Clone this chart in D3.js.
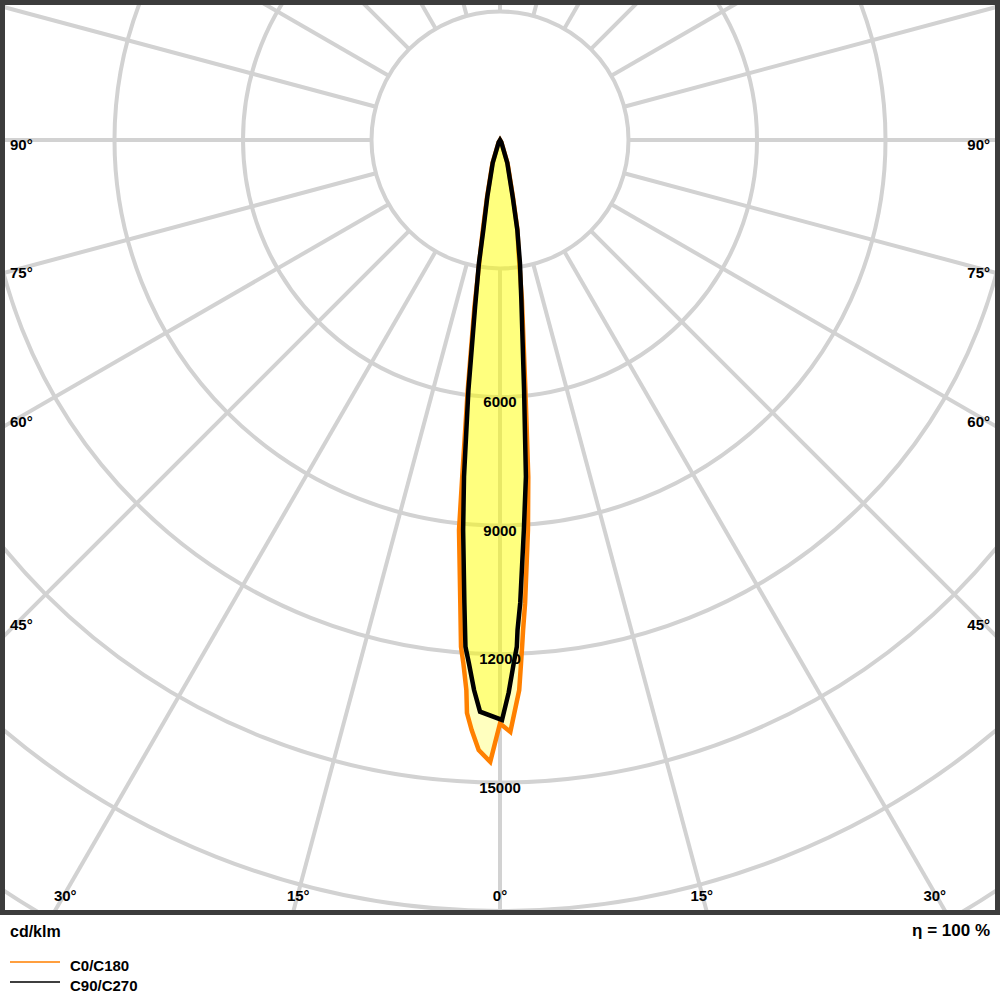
<!DOCTYPE html>
<html><head><meta charset="utf-8">
<script src="https://cdn.jsdelivr.net/npm/d3@7"></script>
<style>
body{margin:0;background:#fff}
svg{display:block}
text{font-family:"Liberation Sans",Arial,Helvetica,sans-serif;font-weight:bold;fill:#000}
</style>
</head><body>
<svg id="chart" width="1000" height="1000"></svg>
<script>
// ---- data (gamma in degrees, negative = left half-plane; values in cd/klm) ----
const c0Angles  = [-90,-30,-18,-12.8,-10.8,-8.7,-7.35,-6.4,-6,-4.9,-4.4,-4,-3.5,-3.3,-2.75,-2,-0.9,0,1,2,2.3,2.5,2.7,3.1,4.1,4.8,5.8,7.8,9.5,11,12.8,18,30,90];
const c0Values  = [0,60,570,1360,2140,3940,5890,7910,9155,10850,11865,12250,12865,13400,13790,14250,14520,13620,13820,12850,12230,11840,11450,10830,9130,7890,5870,3770,2600,2140,1360,570,60,0];
const c90Angles = [-90,-30,-17.6,-12.6,-10.5,-9.7,-8.5,-7.2,-6.1,-5.4,-4.4,-3.9,-3.4,-2.7,-2,0.2,0.9,1.5,1.9,2.05,2.5,3.5,4.4,5.5,7.6,9.2,10.9,12.6,17.6,30,90];
const c90Values = [0,60,563,1357,2137,2920,3935,5883,7905,9145,10842,11857,12238,12855,13355,13540,12900,12222,11836,11447,10819,9122,7884,5863,3768,2916,2139,1357,563,60,0];
const seriesNames = ["C0/C180","C90/C270"];
const ringValues = [3000,6000,9000,12000,15000,18000,21000];
const ringLabels = [6000,9000,12000,15000];
const spokeAngles = d3.range(0,360,15);
const sideAngleLabels = [90,75,60,45];
const bottomAngleLabels = [30,15,0];
const unitLabel = "cd/klm";
const effLabel = "η = 100 %";

// ---- layout ----
const cx = 500, cy = 140;
const frame = {x:2.5, y:2.5, w:995, h:910};
const svg = d3.select("#chart");
const r = d3.scaleLinear().domain([0,3000]).range([0,128.5]);

svg.append("defs").append("clipPath").attr("id","plotclip")
  .append("rect").attr("x",5).attr("y",5).attr("width",990).attr("height",905);

const plot = svg.append("g").attr("clip-path","url(#plotclip)");
const grid = plot.append("g").attr("transform",`translate(${cx},${cy})`);
const gridColor = "#d2d2d2";

grid.selectAll("circle.ring").data(ringValues).enter().append("circle")
  .attr("class","ring").attr("r",d=>r(d)).attr("fill","none")
  .attr("stroke",gridColor).attr("stroke-width",4);

grid.selectAll("line.spoke").data(spokeAngles).enter().append("line")
  .attr("class","spoke")
  .attr("x1",d=>r(3000)*Math.sin(d*Math.PI/180))
  .attr("y1",d=>r(3000)*Math.cos(d*Math.PI/180))
  .attr("x2",d=>1500*Math.sin(d*Math.PI/180))
  .attr("y2",d=>1500*Math.cos(d*Math.PI/180))
  .attr("stroke",gridColor).attr("stroke-width",4);

// ---- curves ----
const radial = d3.lineRadial()
  .angle(d=>Math.PI - d.g*Math.PI/180)
  .radius(d=>r(d.v))
  .curve(d3.curveLinearClosed);

const series = [
  {name:seriesNames[0], pts:c0Angles.map((g,i)=>({g, v:c0Values[i]})), color:"#ff8000", fillOp:0.25},
  {name:seriesNames[1], pts:c90Angles.map((g,i)=>({g, v:c90Values[i]})), color:"#000000", fillOp:0.34}
];
const curves = plot.append("g").attr("transform",`translate(${cx},${cy})`);
series.forEach(s=>{
  curves.append("path").attr("d",radial(s.pts))
    .attr("fill","#ffff00").attr("fill-opacity",s.fillOp)
    .attr("stroke",s.color).attr("stroke-width",4.5)
    .attr("stroke-linejoin","miter").attr("stroke-miterlimit",4);
});

// ---- ring labels ----
plot.selectAll("text.rl").data(ringLabels).enter().append("text")
  .attr("class","rl").attr("x",cx).attr("y",d=>cy + r(d) + 10)
  .attr("text-anchor","middle").style("font-size","15px").text(d=>d);

// ---- angle labels ----
const sideX = 480;
sideAngleLabels.forEach(a=>{
  const y = cy + sideX/Math.tan(a*Math.PI/180) + 9.5;
  svg.append("text").attr("x",10).attr("y",y).attr("text-anchor","start")
    .style("font-size","15px").text(a+"°");
  svg.append("text").attr("x",990).attr("y",y).attr("text-anchor","end")
    .style("font-size","15px").text(a+"°");
});
const labY = 893;
bottomAngleLabels.forEach(a=>{
  const dx = (labY-cy)*Math.tan(a*Math.PI/180);
  const xs = a===0 ? [cx] : [cx-dx, cx+dx];
  xs.forEach(x=>{
    svg.append("text").attr("x",x).attr("y",labY+7.5).attr("text-anchor","middle")
      .style("font-size","15px").text(a+"°");
  });
});

// ---- frame ----
svg.append("rect").attr("x",frame.x).attr("y",frame.y).attr("width",frame.w).attr("height",frame.h)
  .attr("fill","none").attr("stroke","#3c3c3c").attr("stroke-width",5);

// ---- footer ----
svg.append("text").attr("x",10).attr("y",937).style("font-size","16px").text(unitLabel);
svg.append("text").attr("x",990).attr("y",936).attr("text-anchor","end").style("font-size","17px").text(effLabel);

const legend = svg.append("g");
series.forEach((s,i)=>{
  const y = 962 + i*20;
  legend.append("rect").attr("x",10).attr("y",y-0.75).attr("width",50).attr("height",1.5)
    .attr("fill",s.color);
  legend.append("text").attr("x",70).attr("y",y+9).style("font-size","15px").text(s.name);
});
</script>
</body></html>
